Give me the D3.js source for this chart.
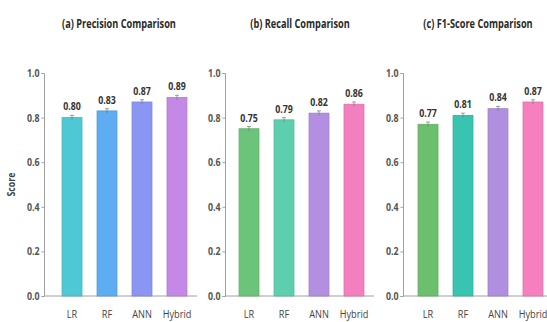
<!DOCTYPE html>
<html>
<head>
<meta charset="utf-8">
<script src="https://cdn.jsdelivr.net/npm/d3@7/dist/d3.min.js"></script>
<style>
  html, body { margin: 0; padding: 0; background: #fff; }
  svg { display: block; }
  text { font-family: "Open Sans", Lato, sans-serif; }
</style>
</head>
<body>
<svg id="chart" width="547" height="322"></svg>
<script>
// Model names on the x axis
const models = ["LR", "RF", "ANN", "Hybrid"];

// Scores per metric
const precision = [0.80, 0.83, 0.87, 0.89];
const recall    = [0.75, 0.79, 0.82, 0.86];
const f1        = [0.77, 0.81, 0.84, 0.87];

// Small spread shown as error bars
const precisionErr = [0.01, 0.01, 0.01, 0.01];
const recallErr    = [0.01, 0.01, 0.01, 0.01];
const f1Err        = [0.01, 0.01, 0.01, 0.01];

// Panel titles and y tick values
const titles = ["(a) Precision Comparison", "(b) Recall Comparison", "(c) F1-Score Comparison"];
const yTicks = [0.0, 0.2, 0.4, 0.6, 0.8, 1.0];

// Bar colours per panel
const precisionColors = ["#4fc8d5", "#5eacf2", "#8b95f4", "#c488e6"];
const recallColors    = ["#6cc47a", "#5dcfae", "#b28fe0", "#f47fbf"];
const f1Colors        = ["#6cbf6c", "#39c3b1", "#b18fe0", "#f57fbf"];

const panels = [
  { title: titles[0], values: precision, err: precisionErr, colors: precisionColors, axisX: 44, bandX: 47, showLabel: true },
  { title: titles[1], values: recall,    err: recallErr,    colors: recallColors,    axisX: 225, bandX: 224, showLabel: false },
  { title: titles[2], values: f1,        err: f1Err,        colors: f1Colors,        axisX: 403, bandX: 403, showLabel: false }
];

// Horizontal squeeze giving the narrow lettering
const narrow = 0.8;

const svg = d3.select("#chart");
const yTop = 73, yBottom = 296;
const y = d3.scaleLinear().domain([0, 1]).range([yBottom, yTop]);

function narrowText(sel, x, yPos) {
  return sel.attr("transform", `translate(${x},${yPos}) scale(${narrow},1)`);
}

panels.forEach(p => {
  const g = svg.append("g");
  const x = d3.scaleBand().domain(models)
    .range([p.bandX, p.bandX + 155])
    .paddingInner(0.43).paddingOuter(0.43);

  // Title
  narrowText(g.append("text"), p.axisX + 75, 28)
    .attr("text-anchor", "middle")
    .attr("font-size", 11.5)
    .attr("font-weight", "bold")
    .attr("fill", "#2a2a2a")
    .text(p.title);

  // Y axis
  const yAxis = d3.axisLeft(y).tickValues(yTicks).tickFormat(d3.format(".1f")).tickSize(2.5).tickPadding(3);
  const ya = g.append("g").attr("transform", `translate(${p.axisX},0)`).call(yAxis);
  ya.select(".domain").attr("stroke", "#a0a0a0").attr("stroke-width", 1);
  ya.selectAll(".tick line").attr("stroke", "#a0a0a0");
  ya.selectAll(".tick text")
    .attr("font-size", 11).attr("font-weight", "bold").attr("fill", "#555")
    .attr("transform", `scale(${narrow},1)`);

  // X axis baseline
  const xAxis = d3.axisBottom(x).tickSize(0).tickPadding(14);
  const xa = g.append("g").attr("transform", `translate(0,${yBottom})`).call(xAxis);
  xa.select(".domain").attr("d", `M${p.axisX},0H${p.bandX + 150}`).attr("stroke", "#a0a0a0");
  xa.selectAll(".tick text")
    .attr("font-size", 11.5).attr("fill", "#444")
    .attr("transform", `scale(${narrow},1)`);

  // Bars
  g.selectAll("rect.bar").data(models).join("rect")
    .attr("class", "bar")
    .attr("x", d => x(d))
    .attr("width", x.bandwidth())
    .attr("y", (d, i) => y(p.values[i]))
    .attr("height", (d, i) => y(0) - y(p.values[i]))
    .attr("fill", (d, i) => p.colors[i])
    .attr("stroke", (d, i) => d3.color(p.colors[i]).darker(0.3))
    .attr("stroke-width", 0.8);

  // Error bars
  const eb = g.selectAll("g.err").data(models).join("g").attr("class", "err")
    .attr("stroke", "#777").attr("stroke-width", 0.7);
  eb.append("line")
    .attr("x1", d => x(d) + x.bandwidth() / 2)
    .attr("x2", d => x(d) + x.bandwidth() / 2)
    .attr("y1", (d, i) => y(p.values[i] - p.err[i]))
    .attr("y2", (d, i) => y(p.values[i] + p.err[i]));
  eb.append("line")
    .attr("x1", d => x(d) + x.bandwidth() / 2 - 2)
    .attr("x2", d => x(d) + x.bandwidth() / 2 + 2)
    .attr("y1", (d, i) => y(p.values[i] + p.err[i]))
    .attr("y2", (d, i) => y(p.values[i] + p.err[i]));

  // Value labels
  g.selectAll("text.val").data(models).join("text")
    .attr("class", "val")
    .attr("transform", (d, i) => `translate(${x(d) + x.bandwidth() / 2},${y(p.values[i] + p.err[i]) - 5}) scale(${narrow},1)`)
    .attr("text-anchor", "middle")
    .attr("font-size", 11)
    .attr("font-weight", "bold")
    .attr("fill", "#333")
    .text((d, i) => p.values[i].toFixed(2));

  if (p.showLabel) {
    g.append("text")
      .attr("transform", `translate(15,${(yTop + yBottom) / 2}) rotate(-90) scale(${narrow},1)`)
      .attr("text-anchor", "middle")
      .attr("font-size", 11)
      .attr("font-weight", "bold")
      .attr("fill", "#444")
      .text("Score");
  }
});
</script>
</body>
</html>
